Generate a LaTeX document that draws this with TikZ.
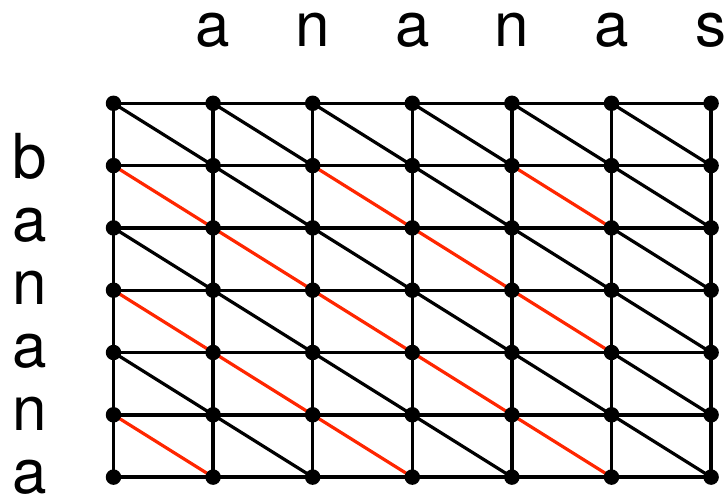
\documentclass[tikz,border=0pt]{standalone}
\usepackage{fontspec}
\setmainfont{TeX Gyre Heros}
\definecolor{matchred}{RGB}{255,38,0}
\tikzset{
  gridline/.style={line width=3.4pt, black},
  diagline/.style={line width=3.2pt, black},
  redline/.style={line width=3.2pt, matchred},
  dot/.style={circle, fill=black, inner sep=0pt, minimum size=15.5pt},
  letter/.style={anchor=base, inner sep=0pt, font=\fontsize{62}{62}\selectfont}
}
\begin{document}
\begin{tikzpicture}[x=1pt, y=-1pt]
\useasboundingbox (0,0) rectangle (726,495);
% grid coordinates
\foreach \r in {0,...,6}
  \foreach \c in {0,...,6}
    \coordinate (p-\r-\c) at ({113.5+99.6*\c},{103.3+62.3*\r});
% horizontal and vertical lines
\foreach \r in {0,...,6}
  \draw[gridline] (p-\r-0) -- (p-\r-6);
\foreach \c in {0,...,6}
  \draw[gridline] (p-0-\c) -- (p-6-\c);
% diagonals
\foreach \r in {0,...,5}
  \foreach \c in {0,...,5} {
    \pgfmathtruncatemacro\nr{\r+1}
    \pgfmathtruncatemacro\nc{\c+1}
    \pgfmathtruncatemacro\isred{and(and(\r>0,\c<5),mod(\r+\c,2)==1)}
    \ifnum\isred=1
      \draw[redline] (p-\r-\c) -- (p-\nr-\nc);
    \else
      \draw[diagline] (p-\r-\c) -- (p-\nr-\nc);
    \fi
  }
% dots
\foreach \r in {0,...,6}
  \foreach \c in {0,...,6}
    \node[dot] (d-\r-\c) at (p-\r-\c) {};
% top letters
\foreach \t [count=\i] in {a,n,a,n,a,s}
  \node[letter] (t\i) at ({113.5+99.6*\i},47) {\t};
% left letters
\foreach \t [count=\i from 0] in {b,a,n,a,n,a}
  \node[letter] (l\i) at (30,{178+63.1*\i}) {\t};
\end{tikzpicture}
\end{document}
